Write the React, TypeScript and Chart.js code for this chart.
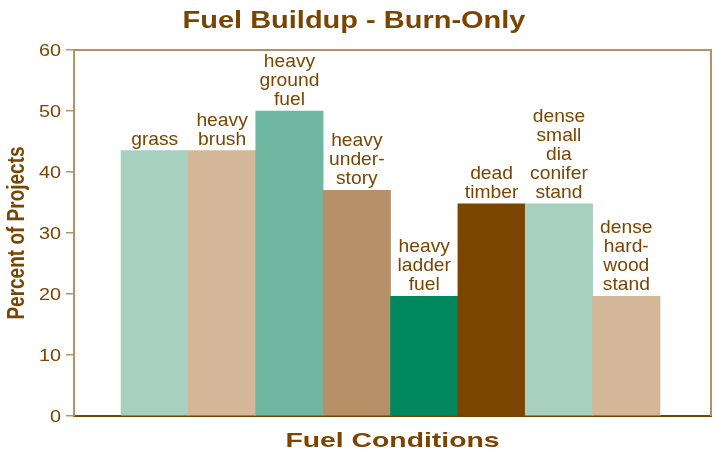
import React, { useEffect, useRef } from 'react';
import { Chart, registerables } from 'chart.js';

Chart.register(...registerables);

const categories = [
  'grass',
  'heavy\nbrush',
  'heavy\nground\nfuel',
  'heavy\nunder-\nstory',
  'heavy\nladder\nfuel',
  'dead\ntimber',
  'dense\nsmall\ndia\nconifer\nstand',
  'dense\nhard-\nwood\nstand',
];
const values = [43.5, 43.5, 50, 37, 19.6, 34.8, 34.8, 19.6];
const barColors = ['#A8D0C1', '#D4B698', '#6FB7A0', '#B89068', '#00875D', '#7A4500', '#A8D0C1', '#D4B698'];
const yTickValues = [0, 10, 20, 30, 40, 50, 60];
const titleText = 'Fuel Buildup - Burn-Only';
const xTitleText = 'Fuel Conditions';
const yTitleText = 'Percent of Projects';

const TEXT = '#7A4500';
const TAN = '#B89068';
const FAMILY = '"Liberation Sans", Arial, Helvetica, sans-serif';

function drawText(
  ctx: CanvasRenderingContext2D,
  text: string,
  x: number,
  y: number,
  font: string,
  sx: number,
  align: CanvasTextAlign,
  baseline: CanvasTextBaseline
) {
  ctx.save();
  ctx.translate(x, y);
  ctx.scale(sx, 1);
  ctx.font = font;
  ctx.fillStyle = TEXT;
  ctx.textAlign = align;
  ctx.textBaseline = baseline;
  ctx.fillText(text, 0, 0);
  ctx.restore();
}

const decorPlugin = {
  id: 'decor',
  afterDraw(chart: any) {
    const ctx: CanvasRenderingContext2D = chart.ctx;
    const area = chart.chartArea;
    // top and right frame
    ctx.save();
    ctx.strokeStyle = TAN;
    ctx.lineWidth = 2;
    ctx.beginPath();
    ctx.moveTo(area.left, area.top);
    ctx.lineTo(area.right, area.top);
    ctx.lineTo(area.right, area.bottom);
    ctx.stroke();
    ctx.restore();

    // title
    drawText(ctx, titleText, 354, 28, `bold 23px ${FAMILY}`, 1.26, 'center', 'alphabetic');
    // x title
    drawText(ctx, xTitleText, (area.left + area.right) / 2, 446.5, `bold 21px ${FAMILY}`, 1.35, 'center', 'alphabetic');
    // y title (rotated)
    ctx.save();
    ctx.translate(24, (area.top + area.bottom) / 2);
    ctx.rotate(-Math.PI / 2);
    ctx.scale(1, 1.25);
    ctx.font = `bold 19px ${FAMILY}`;
    ctx.fillStyle = TEXT;
    ctx.textAlign = 'center';
    ctx.textBaseline = 'alphabetic';
    ctx.fillText(yTitleText, 0, 0);
    ctx.restore();

    // y tick labels
    const yScale = chart.scales.y;
    yTickValues.forEach((v) => {
      const py = yScale.getPixelForValue(v);
      drawText(ctx, String(v), 61, py + 1, `16.5px ${FAMILY}`, 1.2, 'right', 'middle');
    });

    // bar labels
    const meta = chart.getDatasetMeta(0);
    meta.data.forEach((bar: any, i: number) => {
      const lines = categories[i].split('\n');
      const lh = 19;
      const last = bar.y - 6;
      lines.forEach((line, j) => {
        const y = last - (lines.length - 1 - j) * lh;
        drawText(ctx, line, bar.x, y, `18.5px ${FAMILY}`, 1.04, 'center', 'alphabetic');
      });
    });
  },
};

export default function App() {
  const canvasRef = useRef<HTMLCanvasElement | null>(null);

  useEffect(() => {
    document.body.style.margin = '0';
    const canvas = canvasRef.current;
    if (!canvas) return;
    const chart = new Chart(canvas, {
      type: 'bar',
      data: {
        datasets: [
          {
            data: values.map((v, i) => ({ x: i, y: v })),
            backgroundColor: barColors,
            borderWidth: 0,
            barPercentage: 1,
            categoryPercentage: 1,
          } as any,
        ],
      },
      options: {
        responsive: false,
        animation: false,
        devicePixelRatio: 1,
        layout: { padding: { top: 50, right: 5, left: 0, bottom: 0 } },
        plugins: {
          legend: { display: false },
          tooltip: { enabled: false },
          title: { display: false },
        },
        scales: {
          x: {
            type: 'linear',
            min: -1.198,
            max: 8.257,
            offset: false,
            grid: { display: false },
            ticks: { display: false },
            border: { display: true, color: TEXT, width: 2 },
            afterFit: (s: any) => {
              s.height = 35;
            },
          },
          y: {
            min: 0,
            max: 60,
            ticks: { display: false, stepSize: 10 },
            grid: {
              display: true,
              drawOnChartArea: false,
              drawTicks: true,
              tickLength: 8,
              color: TAN,
              lineWidth: 1.5,
            },
            border: { display: true, color: TAN, width: 2 },
            afterFit: (s: any) => {
              s.width = 74;
            },
          },
        },
      } as any,
      plugins: [decorPlugin],
    });
    return () => chart.destroy();
  }, []);

  return (
    <canvas
      ref={canvasRef}
      width={716}
      height={451}
      style={{ display: 'block', width: '716px', height: '451px' }}
    />
  );
}
